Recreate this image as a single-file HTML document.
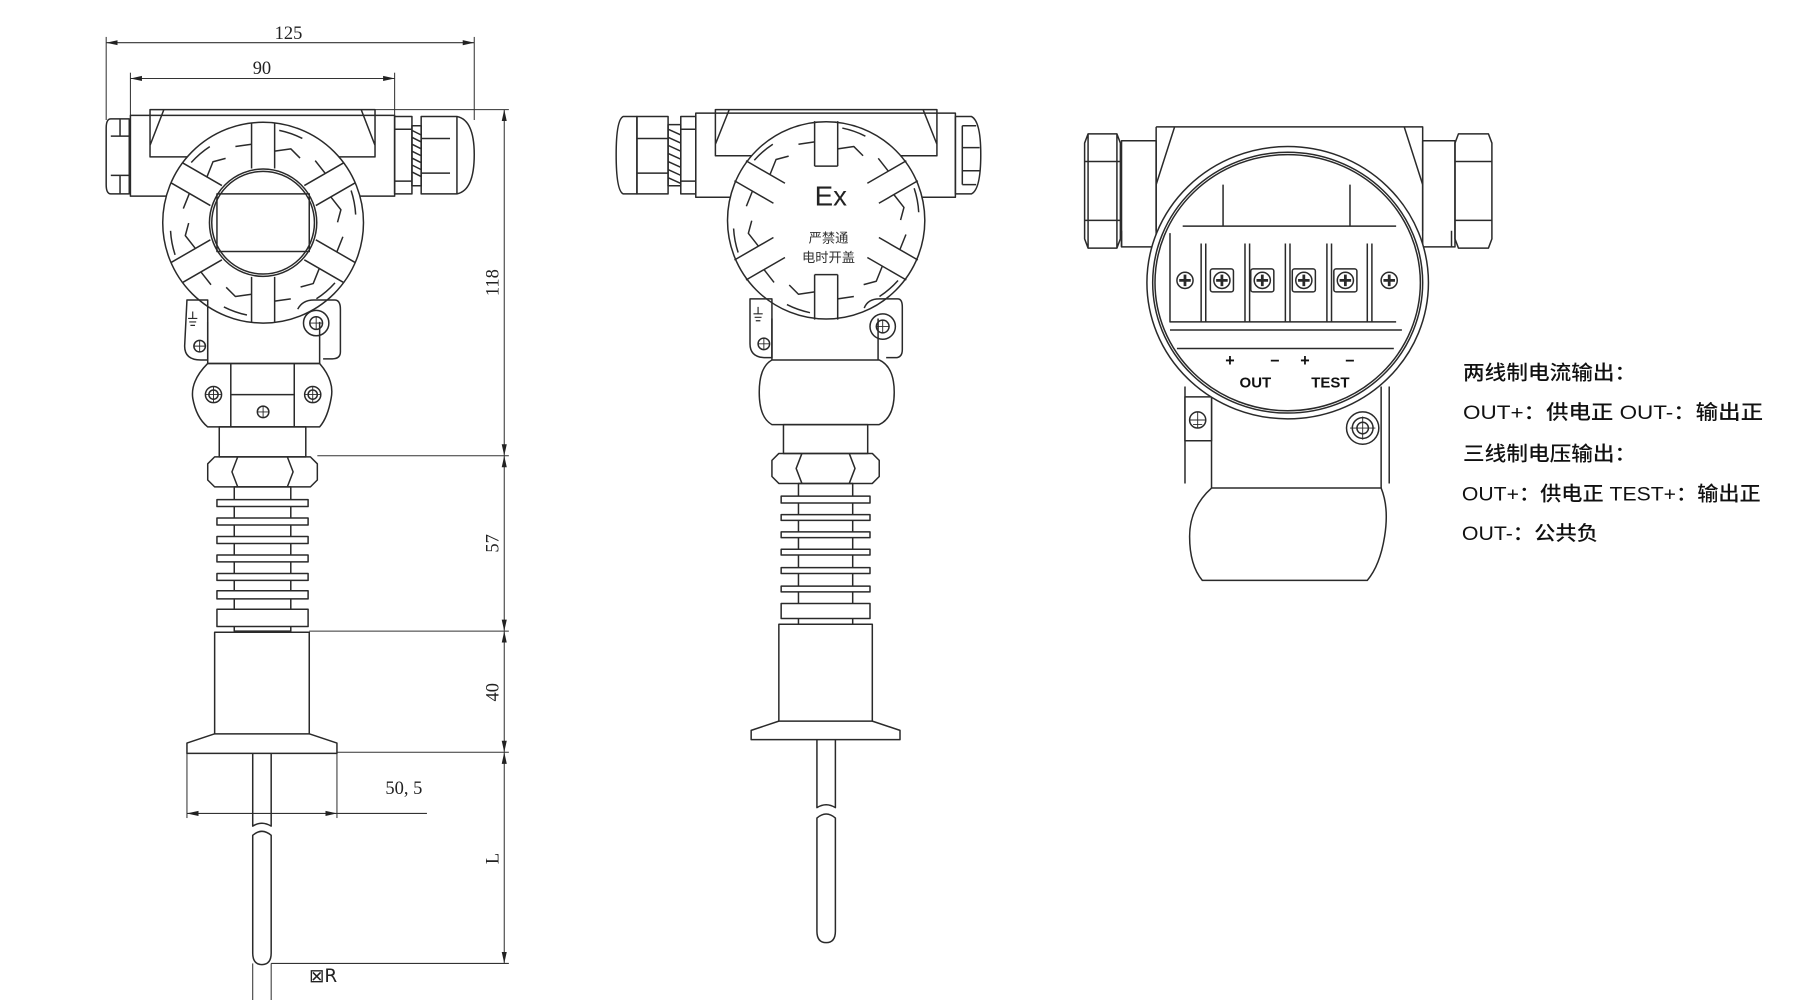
<!DOCTYPE html>
<html><head><meta charset="utf-8"><style>
html,body{margin:0;padding:0;background:#fff;}
svg{display:block;}
</style></head><body>
<svg width="1800" height="1000" viewBox="0 0 1560 866.7" xmlns="http://www.w3.org/2000/svg">
<defs>
<marker id="ar" viewBox="0 0 10 6" refX="10" refY="3" markerWidth="10" markerHeight="6" orient="auto-start-reverse" markerUnits="userSpaceOnUse">
<path d="M0,0.8 L10,3 L0,5.2 z" fill="#222"/></marker>
<g id="spoke">
<path d="M-10,-47 L-10,-86 M10,-47 L10,-86" />
<path d="M10,-62 L24,-64 L32,-56 M-10,-68 L-24,-66" />
<path d="M14,-80 A80,80 0 0 1 34,-73" />
</g>
<g id="screw"><circle r="7" fill="#fff"/><path d="M-5,0 H5 M0,-5 V5" stroke-width="2.4"/></g>
</defs>
<g fill="none" stroke="#2a2a2a" stroke-width="1.3" stroke-linejoin="round">

<!-- ================= LEFT VIEW ================= -->
<g stroke-width="0.9" stroke="#333">
<line x1="92" y1="37" x2="411" y2="37" marker-start="url(#ar)" marker-end="url(#ar)"/>
<line x1="113" y1="68" x2="342" y2="68" marker-start="url(#ar)" marker-end="url(#ar)"/>
<line x1="92" y1="32" x2="92" y2="104"/><line x1="411" y1="32" x2="411" y2="104"/>
<line x1="113" y1="63" x2="113" y2="100"/><line x1="342" y1="63" x2="342" y2="100"/>
<line x1="437" y1="95" x2="437" y2="395" marker-start="url(#ar)" marker-end="url(#ar)"/>
<line x1="437" y1="395" x2="437" y2="547" marker-start="url(#ar)" marker-end="url(#ar)"/>
<line x1="437" y1="547" x2="437" y2="652" marker-start="url(#ar)" marker-end="url(#ar)"/>
<line x1="437" y1="652" x2="437" y2="835" marker-start="url(#ar)" marker-end="url(#ar)"/>
<line x1="325" y1="95" x2="441" y2="95"/>
<line x1="275" y1="395" x2="441" y2="395"/>
<line x1="268" y1="547" x2="441" y2="547"/>
<line x1="292" y1="652" x2="441" y2="652"/>
<line x1="235" y1="835" x2="441" y2="835"/>
<line x1="162" y1="705" x2="292" y2="705" marker-start="url(#ar)" marker-end="url(#ar)"/>
<line x1="292" y1="705" x2="370" y2="705"/>
<line x1="162" y1="653" x2="162" y2="709"/><line x1="292" y1="653" x2="292" y2="709"/>
<line x1="219" y1="835" x2="219" y2="877"/><line x1="235" y1="835" x2="235" y2="877"/>
<line x1="204" y1="871" x2="219" y2="871" marker-end="url(#ar)"/>
<line x1="293" y1="871" x2="235" y2="871" marker-end="url(#ar)"/>
</g>
<rect x="113" y="100" width="229" height="70"/>
<path d="M130,95 H325 V136 H130 Z M142,95 L130,126 M313,95 L325,126"/>
<path d="M96,103 H112 V168 H96 Q92,168 92,160 V111 Q92,103 96,103 Z M96,118 H112 M96,152 H112 M104,103 V118 M104,152 V168"/>
<rect x="342" y="101" width="15" height="67"/>
<path d="M342,112 H357 M342,157 H357"/>
<path d="M357,109 H365 V161 H357 Z M357,113 L365,117 M357,119 L365,123 M357,125 L365,129 M357,131 L365,135 M357,137 L365,141 M357,143 L365,147 M357,149 L365,153"/>
<path d="M365,101 H396 Q411,104 411,134 Q411,165 396,168 H365 Z M365,120 H390 M365,150 H390 M396,101 V168"/>
<circle cx="228" cy="193" r="87" fill="#fff"/>
<circle cx="228" cy="193" r="46.5"/>
<circle cx="228" cy="193" r="44.5"/>
<rect x="188" y="168" width="80" height="50"/>
<g transform="translate(228,193)">
<use href="#spoke"/><use href="#spoke" transform="rotate(60)"/><use href="#spoke" transform="rotate(120)"/>
<use href="#spoke" transform="rotate(180)"/><use href="#spoke" transform="rotate(240)"/><use href="#spoke" transform="rotate(300)"/>
</g>
<path d="M162,260 H180 V312 H174 Q160,312 160,300 Z"/>
<path d="M167,270 V276 M163,276 H171 M164,279 H170 M165,282 H169" stroke-width="1"/>
<circle cx="173" cy="300" r="5"/><path d="M168,300 H178 M173,295 V305" stroke-width="0.8"/>
<path d="M258,268 Q262,260 272,260 H290 Q295,260 295,268 V305 Q295,311 288,311 H280"/>
<circle cx="274" cy="280" r="11"/><circle cx="274" cy="280" r="5.5"/><path d="M268,280 H280 M274,274 V286" stroke-width="0.8"/>
<path d="M180,279 V315 M277,279 V315 M180,315 H277"/>
<path d="M180,315 H277 Q290,330 287,345 Q284,362 277,370 H180 Q170,362 167,345 Q165,330 180,315 Z"/>
<path d="M200,315 V370 M255,315 V370 M200,342 H255"/>
<circle cx="185" cy="342" r="7"/><circle cx="185" cy="342" r="4"/><path d="M178,342 H192 M185,335 V349" stroke-width="0.8"/>
<circle cx="271" cy="342" r="7"/><circle cx="271" cy="342" r="4"/><path d="M264,342 H278 M271,335 V349" stroke-width="0.8"/>
<circle cx="228" cy="357" r="5"/><path d="M223,357 H233 M228,352 V362" stroke-width="0.8"/>
<rect x="190" y="370" width="75" height="26"/>
<path d="M186,396 H269 L275,402 V416 L269,422 H186 L180,416 V402 Z M206,396 L201,409 L206,422 M249,396 L254,409 L249,422 M206,396 H249"/>
<rect x="203" y="422" width="49" height="125"/>
<g fill="#fff">
<rect x="188" y="433" width="79" height="6"/><rect x="188" y="449" width="79" height="6"/>
<rect x="188" y="465" width="79" height="6"/><rect x="188" y="481" width="79" height="6"/>
<rect x="188" y="497" width="79" height="6"/><rect x="188" y="512" width="79" height="7"/>
<rect x="188" y="528" width="79" height="15"/>
</g>
<rect x="186" y="548" width="82" height="88"/>
<path d="M186,636 L162,644 V653 H292 V644 L268,636"/>
<path d="M219,653 V716 Q227,711 235,716 V653 M219,724 Q227,717 235,724 V826 Q235,836 227,836 Q219,836 219,826 Z"/>

<!-- ================= MIDDLE VIEW ================= -->
<rect x="603" y="98" width="225" height="73"/>
<path d="M620,95 H812 V135 H620 Z M632,95 L620,125 M800,95 L812,125"/>
<path d="M552,101 H540 Q534,104 534,134 Q534,165 540,168 H552 Z"/>
<rect x="552" y="101" width="27" height="67"/><path d="M552,120 H579 M552,150 H579"/>
<path d="M579,108 H590 V161 H579 Z M579,112 L590,117 M579,119 L590,124 M579,126 L590,131 M579,133 L590,138 M579,140 L590,145 M579,147 L590,152 M579,154 L590,159"/>
<rect x="590" y="101" width="13" height="67"/><path d="M590,112 H603 M590,157 H603"/>
<path d="M828,101 H842 Q850,105 850,134 Q850,164 842,168 H828 Z M834,109 H846 M834,128 H849 M834,148 H849 M834,160 H846 M834,109 V160"/>
<circle cx="716" cy="191" r="85.5" fill="#fff"/>
<g transform="translate(716,191)">
<use href="#spoke"/><use href="#spoke" transform="rotate(60)"/><use href="#spoke" transform="rotate(120)"/>
<use href="#spoke" transform="rotate(180)"/><use href="#spoke" transform="rotate(240)"/><use href="#spoke" transform="rotate(300)"/>
</g>
<circle cx="716" cy="191" r="47" fill="#fff" stroke="none"/>
<path d="M706,144 H726 M706,238 H726" />
<path d="M650,259 H669 V310 H664 Q650,310 650,298 Z"/>
<path d="M657,266 V272 M653,272 H661 M654,275 H660 M655,278 H659" stroke-width="1"/>
<circle cx="662" cy="298" r="5"/><path d="M657,298 H667 M662,293 V303" stroke-width="0.8"/>
<path d="M749,267 Q752,259 762,259 H778 Q782,259 782,266 V303 Q782,310 776,310 H768"/>
<circle cx="765" cy="283" r="11"/><circle cx="765" cy="283" r="5.5"/><path d="M759,283 H771 M765,277 V289" stroke-width="0.8"/>
<path d="M669,276 V312 M761,276 V312"/>
<path d="M669,312 H762 Q775,318 775,340 Q775,362 762,368 H669 Q658,362 658,340 Q658,318 669,312 Z"/>
<rect x="679" y="368" width="73" height="25"/>
<path d="M675,393 H756 L762,399 V413 L756,419 H675 L669,413 V399 Z M695,393 L690,406 L695,419 M736,393 L741,406 L736,419 M695,393 H736"/>
<rect x="692" y="419" width="47" height="122"/>
<g fill="#fff">
<rect x="677" y="430" width="77" height="6"/><rect x="677" y="446" width="77" height="5"/>
<rect x="677" y="461" width="77" height="5"/><rect x="677" y="476" width="77" height="5"/>
<rect x="677" y="492" width="77" height="5"/><rect x="677" y="508" width="77" height="5"/>
<rect x="677" y="523" width="77" height="13"/>
</g>
<rect x="675" y="541" width="81" height="84"/>
<path d="M675,625 L651,633 V641 H780 V633 L756,625"/>
<path d="M708,641 V700 Q716,695 724,700 V641 M708,709 Q716,702 724,709 V807 Q724,817 716,817 Q708,817 708,807 Z"/>

<!-- ================= RIGHT VIEW ================= -->
<path d="M943,116 H968 L971,124 V207 L968,215 H943 L940,207 V124 Z M940,140 H971 M940,191 H971 M943,116 V215 M968,116 V215" />
<rect x="972" y="122" width="30" height="92"/>
<path d="M1002,110 H1233 V165 M1002,110 V165 M1018,110 L1002,160 M1217,110 L1233,160"/>
<rect x="1233" y="122" width="28" height="92"/>
<path d="M1264,116 H1290 L1293,124 V207 L1290,215 H1264 L1261,207 V124 Z M1261,140 H1293 M1261,191 H1293"/>
<path d="M1002,165 V200 M1233,165 V200 M972,200 V214 M1258,200 V214"/>
<path d="M1027,335 V419 M1204,335 V419 M1050,335 V423 M1197,335 V423"/>
<rect x="1027" y="344" width="23" height="38" fill="#fff"/>
<circle cx="1038" cy="364" r="7"/><path d="M1031,364 H1045 M1038,357 V371 M1034,368 H1042" stroke-width="0.8"/>
<circle cx="1181" cy="371" r="14" fill="#fff"/><circle cx="1181" cy="371" r="9"/><circle cx="1181" cy="371" r="5"/><path d="M1170,371 H1192 M1181,361 V381" stroke-width="0.8"/>
<path d="M1050,423 H1197 Q1204,440 1200,465 Q1196,490 1185,503 H1042 Q1031,490 1031,465 Q1031,440 1050,423 Z"/>
<ellipse cx="1116" cy="245" rx="122" ry="118" fill="#fff"/>
<ellipse cx="1116" cy="245" rx="117" ry="113"/>
<ellipse cx="1116" cy="245" rx="115" ry="111"/>
<path d="M1060,160 V196 M1170,160 V196 M1025,196 H1210"/>
<path d="M1014,202 V279 H1210 M1041,211 V279 M1079,211 V279 M1114,211 V279 M1150,211 V279 M1185,211 V279"/>
<path d="M1045,211 V279 M1083,211 V279 M1118,211 V279 M1154,211 V279 M1189,211 V279"/>
<path d="M1014,286 H1215 M1020,302 H1208"/>
<g>
<use href="#screw" x="1027" y="243"/><use href="#screw" x="1204" y="243"/>
<rect x="1049" y="233" width="20" height="20" rx="2"/><use href="#screw" x="1059" y="243"/>
<rect x="1084" y="233" width="20" height="20" rx="2"/><use href="#screw" x="1094" y="243"/>
<rect x="1120" y="233" width="20" height="20" rx="2"/><use href="#screw" x="1130" y="243"/>
<rect x="1156" y="233" width="20" height="20" rx="2"/><use href="#screw" x="1166" y="243"/>
</g>
</g>

<!-- ================= TEXT ================= -->
<g font-family="'Liberation Serif', serif" font-size="16" fill="#222" text-anchor="middle">
<text x="250" y="34">125</text>
<text x="227" y="64">90</text>
<text transform="translate(432,245) rotate(-90)">118</text>
<text transform="translate(432,471) rotate(-90)">57</text>
<text transform="translate(432,600) rotate(-90)">40</text>
<text transform="translate(432,744) rotate(-90)">L</text>
<text x="350" y="688">50, 5</text>
<text x="280" y="851" font-family="'DejaVu Sans', sans-serif" font-size="16">⊠R</text>
</g>
<text x="720" y="178" font-family="'Liberation Sans', sans-serif" font-size="24" text-anchor="middle" fill="#222">Ex</text>
<g font-family="'Liberation Sans','Noto Sans CJK SC',sans-serif" font-size="11.5" fill="#333" text-anchor="middle">
<text x="718" y="210">严禁通</text>
<text x="718" y="227">电时开盖</text>
</g>
<g font-family="'Liberation Sans',sans-serif" font-weight="bold" font-size="14" fill="#111" text-anchor="middle">
<text x="1066" y="317">+</text><text x="1105" y="317">−</text><text x="1131" y="317">+</text><text x="1170" y="317">−</text>
<text x="1088" y="336" font-size="13">OUT</text><text x="1153" y="336" font-size="13">TEST</text>
</g>
<g font-family="'Liberation Sans','Noto Sans CJK SC',sans-serif" font-size="17" font-weight="500" fill="#111">
<text x="1268" y="329" textLength="150" lengthAdjust="spacingAndGlyphs">两线制电流输出：</text>
<text x="1268" y="363" textLength="260" lengthAdjust="spacingAndGlyphs">OUT+：供电正  OUT-：输出正</text>
<text x="1268" y="399" textLength="150" lengthAdjust="spacingAndGlyphs">三线制电压输出：</text>
<text x="1267" y="434" textLength="259" lengthAdjust="spacingAndGlyphs">OUT+：供电正 TEST+：输出正</text>
<text x="1267" y="468" textLength="118" lengthAdjust="spacingAndGlyphs">OUT-：公共负</text>
</g>
</svg>
</body></html>
